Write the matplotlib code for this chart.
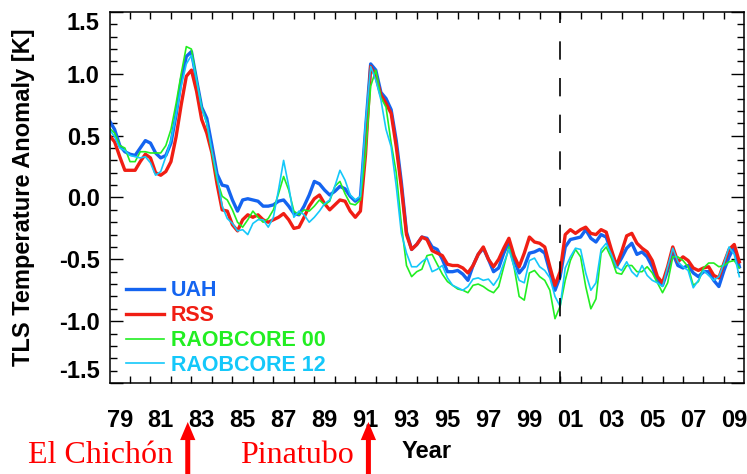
import numpy as np
import matplotlib
matplotlib.use('Agg')
import matplotlib.pyplot as plt
from matplotlib.ticker import MultipleLocator

plt.rcParams['font.family'] = ['Liberation Sans', 'DejaVu Sans']
plt.rcParams['font.weight'] = 'bold'
plt.rcParams['axes.labelweight'] = 'bold'

## quarterly samples, 1979.0 .. 2009.75
t = 1979 + np.arange(124) / 4.0

uah = [0.62, 0.55, 0.42, 0.37, 0.35, 0.34, 0.40, 0.46, 0.44, 0.36, 0.32, 0.34, 0.44,
       0.67, 0.95, 1.14, 1.18, 0.95, 0.73, 0.64, 0.42, 0.19, 0.10, 0.09, -0.02, -0.11, -0.02,
       -0.01, -0.02, -0.03, -0.07, -0.07, -0.06, -0.03, -0.02, -0.07, -0.13, -0.14, -0.07,
       0.02, 0.13, 0.11, 0.06, 0.02, 0.05, 0.09, 0.07, 0.01, -0.03, 0.00, 0.55,
       1.08, 1.03, 0.85, 0.80, 0.71, 0.46, 0.12, -0.28, -0.42, -0.38, -0.32, -0.33, -0.40,
       -0.42, -0.50, -0.60, -0.60, -0.59, -0.62, -0.67, -0.55, -0.46, -0.41, -0.50, -0.60, -0.57,
       -0.45, -0.36, -0.50, -0.61, -0.56, -0.45, -0.44, -0.42, -0.45, -0.60, -0.75, -0.64,
       -0.40, -0.34, -0.33, -0.32, -0.26, -0.33, -0.36, -0.30, -0.32, -0.44, -0.56, -0.49, -0.41,
       -0.37, -0.46, -0.44, -0.48, -0.56, -0.67, -0.71, -0.59, -0.45, -0.55, -0.57, -0.55,
       -0.61, -0.64, -0.60, -0.60, -0.67, -0.72, -0.59, -0.48, -0.40, -0.56]

rss = [0.50, 0.45, 0.33, 0.22, 0.22, 0.22, 0.29, 0.35, 0.32, 0.20, 0.18, 0.21, 0.29,
       0.49, 0.75, 0.98, 1.03, 0.86, 0.63, 0.52, 0.36, 0.11, -0.10, -0.11, -0.22, -0.27, -0.18,
       -0.14, -0.16, -0.14, -0.18, -0.20, -0.18, -0.16, -0.13, -0.18, -0.25, -0.24, -0.16,
       -0.07, -0.01, 0.02, -0.05, -0.10, -0.06, -0.02, -0.03, -0.11, -0.16, -0.11, 0.35,
       1.06, 0.98, 0.83, 0.76, 0.68, 0.41, 0.08, -0.30, -0.42, -0.38, -0.32, -0.34, -0.43,
       -0.45, -0.47, -0.54, -0.55, -0.55, -0.57, -0.61, -0.55, -0.46, -0.40, -0.50, -0.56, -0.50,
       -0.41, -0.33, -0.47, -0.56, -0.45, -0.32, -0.36, -0.37, -0.40, -0.56, -0.71, -0.60,
       -0.30, -0.26, -0.29, -0.26, -0.24, -0.29, -0.30, -0.26, -0.28, -0.42, -0.55, -0.44, -0.31,
       -0.29, -0.37, -0.41, -0.44, -0.51, -0.64, -0.69, -0.56, -0.40, -0.52, -0.48, -0.51,
       -0.57, -0.59, -0.57, -0.56, -0.63, -0.65, -0.53, -0.42, -0.38, -0.52]

raob00 = [0.56, 0.52, 0.42, 0.40, 0.29, 0.29, 0.37, 0.37, 0.36, 0.36, 0.36, 0.42, 0.55,
          0.76, 1.00, 1.22, 1.20, 0.95, 0.73, 0.60, 0.36, 0.14, 0.01, -0.02, -0.10, -0.20, -0.24,
          -0.18, -0.11, -0.16, -0.20, -0.17, -0.10, 0.03, 0.17, 0.06, -0.11, -0.14, -0.10,
          -0.11, -0.07, -0.02, -0.06, -0.03, 0.09, 0.13, 0.03, -0.05, -0.06, -0.02, 0.35,
          0.90, 1.03, 0.81, 0.73, 0.44, 0.20, -0.22, -0.55, -0.64, -0.60, -0.58, -0.47, -0.46,
          -0.54, -0.62, -0.68, -0.71, -0.74, -0.75, -0.77, -0.71, -0.70, -0.72, -0.75, -0.77, -0.72,
          -0.56, -0.40, -0.56, -0.80, -0.83, -0.61, -0.59, -0.64, -0.67, -0.75, -0.98, -0.88,
          -0.67, -0.51, -0.42, -0.48, -0.72, -0.90, -0.82, -0.45, -0.40, -0.49, -0.61, -0.62, -0.55,
          -0.55, -0.60, -0.60, -0.56, -0.61, -0.69, -0.77, -0.69, -0.48, -0.48, -0.51, -0.56,
          -0.71, -0.68, -0.57, -0.53, -0.53, -0.56, -0.55, -0.52, -0.51, -0.57]

raob12 = [0.55, 0.49, 0.40, 0.38, 0.34, 0.33, 0.32, 0.33, 0.28, 0.18, 0.21, 0.33, 0.46,
          0.67, 0.90, 1.08, 1.15, 0.95, 0.72, 0.60, 0.38, 0.17, -0.07, -0.17, -0.21, -0.27, -0.26,
          -0.30, -0.21, -0.18, -0.18, -0.24, -0.16, 0.06, 0.30, 0.09, -0.16, -0.11, -0.14,
          -0.20, -0.16, -0.11, -0.05, -0.02, 0.09, 0.22, 0.14, 0.02, -0.02, 0.01, 0.60,
          1.06, 0.95, 0.79, 0.55, 0.41, 0.09, -0.29, -0.45, -0.56, -0.56, -0.52, -0.49, -0.60,
          -0.58, -0.55, -0.65, -0.71, -0.73, -0.75, -0.72, -0.66, -0.65, -0.67, -0.66, -0.71, -0.65,
          -0.53, -0.42, -0.56, -0.67, -0.69, -0.51, -0.49, -0.56, -0.59, -0.65, -0.80, -0.88,
          -0.57, -0.48, -0.41, -0.42, -0.61, -0.75, -0.69, -0.42, -0.37, -0.46, -0.56, -0.59, -0.52,
          -0.60, -0.64, -0.55, -0.63, -0.67, -0.69, -0.72, -0.56, -0.41, -0.52, -0.56, -0.59,
          -0.73, -0.67, -0.59, -0.63, -0.67, -0.64, -0.53, -0.40, -0.46, -0.64]

series = ['UAH', 'RSS', 'RAOBCORE 00', 'RAOBCORE 12']
colors = ['#1464f0', '#f01e14', '#22ee22', '#14c8fa']
widths = [2.4, 2.4, 1.2, 1.2]
year_labels = ['79', '81', '83', '85', '87', '89', '91', '93', '95', '97', '99',
               '01', '03', '05', '07', '09']
eruptions = ['El Chichón', 'Pinatubo']
eruption_years = [1982.82, 1991.64]

fig = plt.figure(figsize=(7.47, 4.74), dpi=100)
ax = fig.add_axes([0.1466, 0.192, 0.8500, 0.7827])

for name, vals, c, lw in zip(series, [uah, rss, raob00, raob12], colors, widths):
    ax.plot(t, vals, color=c, lw=lw, label=name)

ax.axvline(2001, color='black', lw=1.2, linestyle=(4, (11, 11)))

ax.set_xlim(1979, 2010)
ax.set_ylim(-1.5, 1.5)

ax.set_xticks(np.arange(1980, 2010))
ax.set_xticks(np.arange(1979.5, 2010, 2), minor=True)
ax.set_xticklabels([])
ax.set_xticklabels(year_labels, minor=True)
ax.tick_params(axis='x', which='major', direction='in', length=5, width=1,
               top=True, bottom=True)
ax.tick_params(axis='x', which='minor', length=0, pad=19, labelsize=17)

ax.set_yticks(np.arange(-1.5, 1.51, 0.5))
ax.set_yticklabels(['-1.5', '-1.0', '-0.5', '0.0', '0.5', '1.0', '1.5'])
ax.yaxis.set_minor_locator(MultipleLocator(0.1))
ax.tick_params(axis='y', which='major', direction='in', length=9.5, width=1,
               left=True, right=True, pad=7, labelsize=17)
ax.tick_params(axis='y', which='minor', direction='in', length=5, width=1,
               left=True, right=True)
ylabs = ax.get_yticklabels()
ylabs[0].set_va('bottom')
ylabs[-1].set_va('top')

for s in ax.spines.values():
    s.set_linewidth(1.1)

ax.set_ylabel('TLS Temperature Anomaly [K]', fontsize=17, fontweight='bold')
ax.yaxis.label.set_va('center')
ax.yaxis.set_label_coords(-0.1356, 0.5)

leg = ax.legend(loc='upper left', bbox_to_anchor=(0.003, 0.318), frameon=False,
                fontsize=15.5, handlelength=1.75, handletextpad=0.3,
                labelspacing=0.185, borderpad=0.2, labelcolor='linecolor')

fig.text(427 / 747, 1 - 452 / 474, 'Year', fontsize=17, ha='center', va='center')

for name, yr, tx in zip(eruptions, eruption_years, [28, 240]):
    fig.text(tx / 747, 1 - 463 / 474, name, color='red', fontsize=23,
             family='Liberation Serif', fontweight='normal', ha='left', va='baseline')
    ax.annotate('', xy=(yr, 1 - 422 / 474), xytext=(yr, 0.0),
                xycoords=('data', 'figure fraction'),
                textcoords=('data', 'figure fraction'),
                arrowprops=dict(arrowstyle='simple,head_length=1.3,head_width=1.1,tail_width=0.36',
                                mutation_scale=10, color='red', lw=0,
                                shrinkA=0, shrinkB=0),
                annotation_clip=False)

fig.savefig('out.png', dpi=100)
